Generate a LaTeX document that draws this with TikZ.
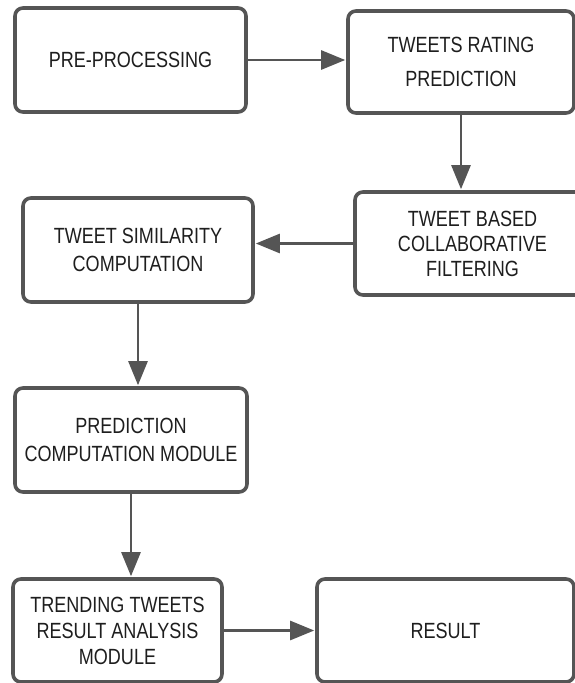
\documentclass[tikz,border=0pt]{standalone}
\usepackage{fontspec}
\newfontfamily\diagfont[FakeStretch=0.82]{Liberation Sans}
\usetikzlibrary{arrows.meta}
\definecolor{edgegray}{HTML}{555555}
\definecolor{txtgray}{HTML}{1E1E1E}
\tikzset{
  box/.style={draw=edgegray, line width=3.6pt, rounded corners=8pt, fill=white,
    align=center, text=txtgray, inner sep=0pt,
    font=\diagfont\fontsize{22}{28}\selectfont},
  flow/.style={draw=edgegray, line width=2.6pt,
    -{Triangle[length=24pt,width=19pt]}, shorten >=1pt}
}
\begin{document}
\begin{tikzpicture}[x=1pt,y=-1pt]
\useasboundingbox[fill=white] (0,0) rectangle (575,683);
\node[box, minimum width=231pt, minimum height=104pt] (b1) at (130.5,60) {PRE-PROCESSING};
\node[box, minimum width=226pt, minimum height=102pt] (b2) at (461,62) {TWEETS RATING\\[6pt]PREDICTION};
\node[box, minimum width=235pt, minimum height=103pt] (b3) at (472.5,243.5) {TWEET BASED\\[-3pt]COLLABORATIVE\\[-3pt]FILTERING};
\node[box, minimum width=230pt, minimum height=104pt] (b4) at (138,250) {TWEET SIMILARITY\\COMPUTATION};
\node[box, minimum width=232pt, minimum height=104pt] (b5) at (131,440) {PREDICTION\\COMPUTATION MODULE};
\node[box, minimum width=209pt, minimum height=103pt] (b6) at (117.5,630.5) {TRENDING TWEETS\\[-2pt]RESULT ANALYSIS\\[-2pt]MODULE};
\node[box, minimum width=257pt, minimum height=103pt] (b7) at (445.5,630.5) {RESULT};
\draw[flow] (b1.east) -- (b1.east -| b2.west);
\draw[flow] (b2.south) -- (b2.south |- b3.north);
\draw[flow] (b3.west) -- (b3.west -| b4.east);
\draw[flow] (b4.south) -- (b4.south |- b5.north);
\draw[flow] (b5.south) -- (b5.south |- b6.north);
\draw[flow] (b6.east) -- (b6.east -| b7.west);
\end{tikzpicture}
\end{document}
